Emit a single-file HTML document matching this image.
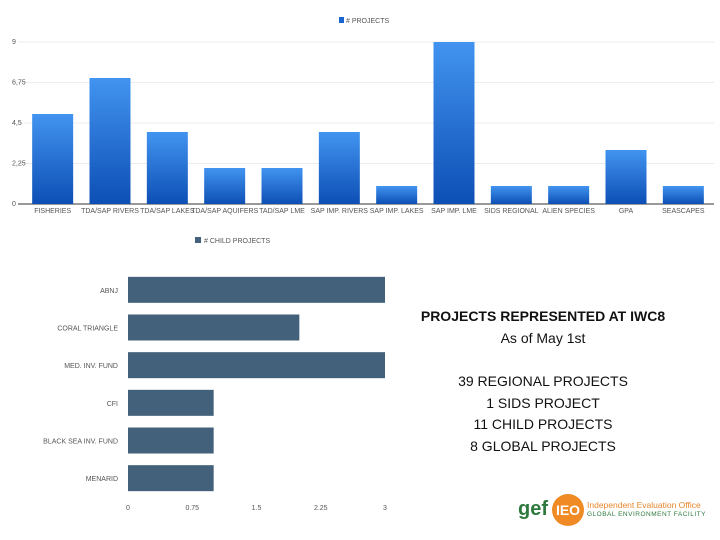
<!DOCTYPE html>
<html><head><meta charset="utf-8"><style>
body{margin:0;width:720px;height:540px;background:#fff;overflow:hidden;font-family:"Liberation Sans",sans-serif}
svg{position:absolute;left:0;top:0}
.t{font-family:"Liberation Sans",sans-serif;font-size:7px;fill:#555}
.info{position:absolute;left:398px;top:306px;width:290px;text-align:center;font-family:"Liberation Sans",sans-serif;font-size:14px;color:#111;line-height:21.5px}
</style></head><body>
<svg width="720" height="540">
<defs><linearGradient id="bg" x1="0" y1="0" x2="0" y2="1"><stop offset="0" stop-color="#4294f0"/><stop offset="1" stop-color="#0d4fb5"/></linearGradient></defs>
<g id="top"></g><g id="bot"></g>
</svg>
<div class="info">
<b>PROJECTS REPRESENTED AT IWC8</b><br>As of May 1st<br><div style="height:22px"></div>39 REGIONAL PROJECTS<br>1 SIDS PROJECT<br>11 CHILD PROJECTS<br>8 GLOBAL PROJECTS
</div>
<div style="position:absolute;left:518px;top:494px;width:200px;height:34px">
<span style="position:absolute;left:0;top:4px;font-size:20px;color:#2e7a3e;font-weight:bold">gef</span>
<span style="position:absolute;left:34px;top:0;width:32px;height:32px;border-radius:16px;background:#f08a24;color:#fff;font-size:14px;line-height:32px;text-align:center;font-weight:bold">IEO</span>
<span style="position:absolute;left:69px;top:6px;font-size:8.5px;color:#e8862c;white-space:nowrap">Independent Evaluation Office</span>
<span style="position:absolute;left:69px;top:17px;font-size:6.5px;color:#2e7a3e;white-space:nowrap;letter-spacing:0.5px">GLOBAL ENVIRONMENT FACILITY</span>
</div>
<script>
const topCats=["FISHERIES","TDA/SAP RIVERS","TDA/SAP LAKES","TDA/SAP AQUIFERS","TAD/SAP LME","SAP IMP. RIVERS","SAP IMP. LAKES","SAP IMP. LME","SIDS REGIONAL","ALIEN SPECIES","GPA","SEASCAPES"];
const topVals=[5,7,4,2,2,4,1,9,1,1,3,1];
const topTicks=["0","2,25","4,5","6,75","9"];
const botCats=["ABNJ","CORAL TRIANGLE","MED. INV. FUND","CFI","BLACK SEA INV. FUND","MENARID"];
const botVals=[3,2,3,1,1,1];
const botTicks=["0","0.75","1.5","2.25","3"];
const NS="http://www.w3.org/2000/svg";
function mk(p,tag,a,txt){const e=document.createElementNS(NS,tag);for(const k in a)e.setAttribute(k,a[k]);if(txt!=null)e.textContent=txt;p.appendChild(e);return e;}
const T=document.getElementById('top');
const tx0=24,tx1=712,ty0=204,ty1=42,tmax=9;
const ty=v=>ty0-(v/tmax)*(ty0-ty1);
const slot=(tx1-tx0)/topCats.length;
topTicks.forEach((s,i)=>{const v=i*tmax/(topTicks.length-1);
 const l=mk(T,'line',{x1:18,x2:714,y1:ty(v),y2:ty(v),stroke:i==0?'#333':'#ececec','stroke-width':1});
 
 const t=mk(T,'text',{x:12,y:ty(v)+2,class:'t','font-size':6},s);
 });
topCats.forEach((c,i)=>{const cx=tx0+slot*(i+0.5);
 const r=mk(T,'rect',{x:cx-20.5,y:ty(topVals[i]),width:41,height:ty0-ty(topVals[i]),fill:'url(#bg)'});
 
 const t=mk(T,'text',{x:cx,y:213,class:'t','text-anchor':'middle','font-size':5.8},c);
 });
const lg=mk(T,'rect',{x:339,y:17,width:5,height:6,fill:'#1a66d0'});

const lt=mk(T,'text',{x:346,y:23,class:'t','font-size':6},'# PROJECTS');

const B=document.getElementById('bot');
const bx0=128,bx1=385,by0=271,by1=497,bmax=3;
const bx=v=>bx0+(v/bmax)*(bx1-bx0);
const bslot=(by1-by0)/botCats.length;
botTicks.forEach((s,i)=>{const v=i*bmax/(botTicks.length-1);
 const t=mk(B,'text',{x:bx(v),y:510,class:'t','text-anchor':'middle','font-size':7.5},s);
 });
botCats.forEach((c,i)=>{const cy=by0+bslot*(i+0.5);
 const r=mk(B,'rect',{x:bx0,y:cy-13,width:bx(botVals[i])-bx0,height:26,fill:'#44617b'});
 
 const t=mk(B,'text',{x:118,y:cy+3,class:'t','text-anchor':'end','font-size':8},c);
 });
const lg2=mk(B,'rect',{x:195,y:237,width:6,height:6,fill:'#44617b'});

const lt2=mk(B,'text',{x:204,y:243,class:'t','font-size':8},'# CHILD PROJECTS');

</script>
</body></html>
